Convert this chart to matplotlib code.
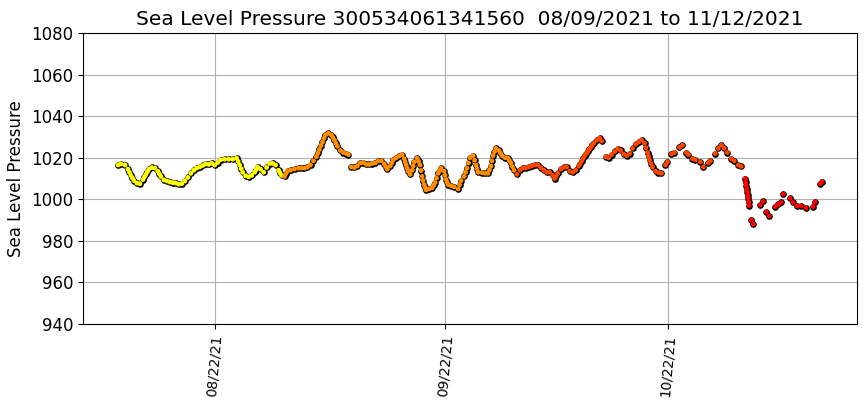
import numpy as np
import pandas as pd
import matplotlib
matplotlib.use('Agg')
import matplotlib.pyplot as plt
import matplotlib.dates as mdates

# buoy id + time range for the title
buoy_id = '300534061341560'
start = pd.Timestamp('2021-08-09')
end = pd.Timestamp('2021-11-12')

# observation time (days since start) and sea level pressure (hPa)
days = [0.00, 0.38, 0.92, 1.32, 1.52, 1.72, 1.92, 2.13, 2.53, 2.93,
        3.34, 3.54, 3.74, 3.94, 4.14, 4.54, 4.95, 5.35, 5.55, 5.75,
        6.15, 6.56, 6.96, 7.36, 7.77, 8.17, 8.57, 8.97, 9.38, 9.78,
        10.18, 10.58, 10.99, 11.39, 11.79, 12.19, 12.60, 13.00, 13.40, 13.81,
        14.34, 14.88, 15.42, 15.95, 16.15, 16.36, 16.56, 16.76, 17.16, 17.56,
        17.97, 18.37, 18.57, 18.77, 19.17, 19.58, 19.98, 20.38, 20.79, 21.19,
        21.59, 21.79, 21.99, 22.40, 22.60, 22.80, 23.20, 23.74, 24.28, 24.68,
        25.08, 25.48, 25.89, 26.29, 26.69, 26.89, 27.09, 27.30, 27.50, 27.70,
        27.90, 28.30, 28.70, 28.90, 29.11, 29.31, 29.51, 29.91, 30.32, 30.72,
        30.99,
        # ---
        31.39, 31.79, 32.19, 32.60, 33.00, 33.40, 33.81, 34.21, 34.61, 35.01,
        35.42, 35.82, 36.02, 36.22, 36.62, 36.82, 37.03, 37.43, 37.83, 38.23,
        38.50, 38.63, 38.77, 38.90, 39.04, 39.31, 39.58, 39.71, 39.85, 40.25,
        40.45, 40.65, 40.78, 40.92, 41.05, 41.19, 41.32, 41.46, 41.86, 42.26,
        42.46, 42.66, 42.86, 43.07, 43.27, 43.47, 43.87, 44.00, 44.14, 44.27,
        44.41, 44.81, 45.21,
        # ---
        45.75, 45.95, 46.15, 46.56, 46.76, 46.96, 47.16, 47.36, 47.77, 47.97,
        48.17, 48.30, 48.44,
        # ---
        48.97, 49.38, 49.78, 49.98, 50.18, 50.31, 50.45, 50.65, 50.85, 51.26,
        51.46, 51.66, 52.06, 52.46, 52.66, 52.87, 53.07, 53.27, 53.67, 54.07,
        54.48, 54.88, 55.28, 55.68, 56.09, 56.49, 56.89, 57.30, 57.70, 58.10,
        58.50, 58.77, 58.97, 59.17, 59.58, 59.98, 60.38, 60.79, 61.19, 61.59,
        61.99, 62.19, 62.40, 62.60, 62.80, 63.00, 63.20, 63.40, 63.60, 63.80,
        64.01, 64.41, 64.81, 65.08,
        # ---
        65.62, 66.02, 66.42, 66.83, 67.23, 67.63, 68.03, 68.44, 68.84, 69.24,
        69.64, 70.05, 70.45, 70.85, 71.05, 71.26, 71.39, 71.52, 71.72, 71.93,
        72.33, 72.73, 73.13,
        # --- patchy from here on
        73.67, 73.94, 74.48, 74.88, 75.55, 75.95, 76.49, 76.76, 77.30, 77.70,
        78.37, 78.77, 79.44, 79.71, 80.38, 80.79, 81.19, 81.59, 81.99, 82.53,
        82.93, 83.47, 83.87, 84.41, 84.47, 84.54, 84.61, 84.68, 84.75, 84.81,
        84.88, 84.95, 85.21, 85.48, 86.42, 86.83, 87.23, 87.63, 88.44, 88.84,
        89.24, 89.51, 90.45, 90.85, 91.39, 91.93, 92.60, 93.54, 93.81, 94.48,
        94.74]

pressure = [1016.5, 1017.0, 1016.5, 1014.5, 1013.0, 1011.5, 1010.2, 1009.0, 1007.8, 1007.5,
            1009.5, 1010.8, 1012.0, 1013.3, 1014.5, 1015.3, 1015.0, 1013.5, 1012.2, 1011.0,
            1009.3, 1008.8, 1008.3, 1008.0, 1007.8, 1007.3, 1007.5, 1008.8, 1010.5, 1012.5,
            1014.0, 1015.0, 1015.6, 1016.3, 1017.0, 1016.8, 1017.3, 1016.5, 1017.7, 1019.0,
            1019.3, 1019.3, 1019.3, 1019.8, 1018.2, 1016.5, 1014.7, 1013.0, 1011.3, 1010.8,
            1011.5, 1013.0, 1014.3, 1015.5, 1014.5, 1013.0, 1015.3, 1017.2, 1017.3, 1016.5,
            1014.0, 1012.7, 1011.5, 1011.0, 1012.4, 1013.7, 1014.0, 1014.6, 1015.0, 1015.0,
            1015.0, 1015.5, 1016.5, 1018.5, 1020.5, 1022.2, 1024.0, 1025.8, 1027.5, 1029.3,
            1031.0, 1031.8, 1031.0, 1029.8, 1028.5, 1027.0, 1025.5, 1023.5, 1022.5, 1022.0,
            1021.5,
            # ---
            1015.5, 1015.3, 1016.0, 1017.5, 1017.7, 1016.8, 1016.8, 1017.2, 1017.5, 1018.5,
            1018.5, 1017.0, 1015.7, 1014.5, 1016.0, 1017.5, 1019.0, 1020.0, 1020.8, 1021.5,
            1019.5, 1018.0, 1016.5, 1015.0, 1013.5, 1012.0, 1014.0, 1016.0, 1018.0, 1019.8,
            1018.2, 1016.5, 1013.8, 1011.0, 1009.0, 1007.0, 1005.7, 1004.5, 1005.0, 1005.5,
            1006.7, 1008.0, 1010.2, 1012.5, 1013.8, 1015.0, 1013.5, 1011.5, 1009.5, 1008.2,
            1007.0, 1006.5, 1006.0,
            # ---
            1005.0, 1007.0, 1009.0, 1011.0, 1013.0, 1015.0, 1017.5, 1020.0, 1021.0, 1018.8,
            1016.5, 1014.7, 1013.0,
            # ---
            1012.8, 1012.5, 1012.5, 1014.2, 1016.0, 1018.5, 1021.0, 1022.8, 1024.5, 1023.5,
            1022.2, 1021.0, 1020.0, 1019.8, 1018.7, 1017.5, 1015.7, 1014.0, 1012.0, 1014.0,
            1015.0, 1015.2, 1015.5, 1016.0, 1016.5, 1016.5, 1015.2, 1014.0, 1013.0, 1013.0,
            1011.5, 1010.0, 1011.2, 1012.5, 1014.5, 1015.5, 1015.5, 1013.5, 1013.0, 1014.0,
            1016.0, 1017.2, 1018.5, 1019.8, 1021.0, 1022.0, 1023.0, 1024.0, 1025.0, 1026.0,
            1027.0, 1028.5, 1029.5, 1028.0,
            # ---
            1020.5, 1020.0, 1021.5, 1023.0, 1024.2, 1023.5, 1021.8, 1021.0, 1022.0, 1024.5,
            1026.5, 1027.5, 1028.5, 1027.0, 1024.8, 1022.5, 1020.7, 1019.0, 1017.2, 1015.5,
            1013.5, 1012.8, 1012.5,
            # --- patchy from here on
            1016.5, 1018.0, 1021.8, 1022.5, 1025.0, 1026.0, 1022.5, 1021.5, 1019.5, 1019.0,
            1018.0, 1015.5, 1017.5, 1018.5, 1022.0, 1024.5, 1026.0, 1024.5, 1022.5, 1019.5,
            1018.5, 1016.5, 1015.8, 1010.0, 1008.2, 1006.5, 1005.0, 1003.5, 1002.0, 1000.5,
            998.8, 997.0, 990.0, 988.0, 997.2, 999.0, 994.0, 992.0, 996.5, 997.5,
            998.5, 1002.5, 1000.5, 998.5, 996.8, 996.8, 995.8, 996.5, 998.7, 1007.5,
            1008.5]

# points are coloured by period, roughly one per month
color_breaks = ['2021-08-31 05:00', '2021-10-01 10:00', '2021-11-01 02:00']
period_colors = ['yellow', 'darkorange', 'orangered', 'red']

times = start + pd.to_timedelta(days, unit='D')
period = pd.to_datetime(color_breaks).searchsorted(times)
colors = [period_colors[i] for i in period]

fig = plt.figure(figsize=(8.67, 4.08), dpi=100)
ax = fig.add_axes([0.0957, 0.206, 0.893, 0.713])

# black outline first, then the coloured fill on top of it
ax.scatter(times, pressure, s=23, c='black', linewidths=0, zorder=3)
ax.scatter(times, pressure, s=12, c=colors, linewidths=0, zorder=4)

ax.set_ylim(940, 1080)
ax.set_yticks(np.arange(940, 1081, 20))
ax.xaxis.set_major_locator(mdates.MonthLocator(bymonthday=22))
ax.xaxis.set_major_formatter(mdates.DateFormatter('%m/%d/%y'))
plt.setp(ax.get_xticklabels(), rotation=85, fontsize=10)
ax.tick_params(axis='y', labelsize=12)
ax.grid(True, color='#b0b0b0', linewidth=0.8)
ax.set_axisbelow(True)

ax.set_ylabel('Sea Level Pressure', fontsize=12)
ax.set_title(f'Sea Level Pressure {buoy_id}  {start:%m/%d/%Y} to {end:%m/%d/%Y}', fontsize=14.5)

fig.savefig('out.png', dpi=100)
